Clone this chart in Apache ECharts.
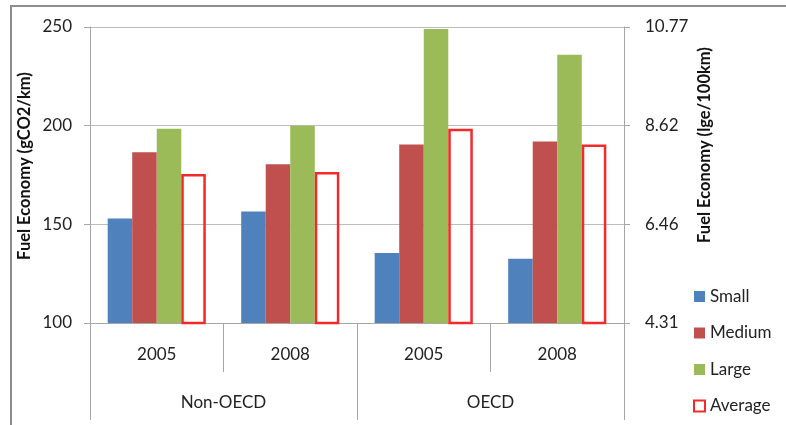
<!DOCTYPE html>
<html>
<head>
<meta charset="utf-8">
<script src="https://cdn.jsdelivr.net/npm/echarts@6/dist/echarts.min.js"></script>
<style>
  html, body { margin: 0; padding: 0; background: #fff; }
  #chart { width: 786px; height: 425px; }
</style>
</head>
<body>
<div id="chart"></div>
<script>
// Passenger vehicle fuel economy by vehicle size, region and year
const years = ['2005', '2008', '2005', '2008'];
const regions = ['Non-OECD', 'OECD'];
const small = [153, 156.5, 135.5, 132.5];
const medium = [186.5, 180.5, 190.5, 192];
const large = [198.5, 200, 249, 236];
const average = [175.5, 176.5, 198.5, 190.5];
// Left axis ticks (gCO2/km) and matching right axis labels (lge/100km)
const leftTicks = [100, 150, 200, 250];
const rightTicks = ['4.31', '6.46', '8.62', '10.77'];

const FONT = 'Lato, "Liberation Sans", sans-serif';
const AXIS_GRAY = '#a6a6a6';
const GRID_GRAY = '#bdbdbd';
const LABEL_SIZE = 17;

const chart = echarts.init(document.getElementById('chart'), null, { renderer: 'canvas' });

chart.setOption({
  animation: false,
  backgroundColor: '#fff',
  textStyle: { fontFamily: FONT },
  grid: { left: 90, right: 162, top: 27, bottom: 102, containLabel: false },
  legend: {
    orient: 'vertical',
    left: 693,
    top: 288,
    padding: 0,
    itemWidth: 11,
    itemHeight: 11,
    itemGap: 19.5,
    icon: 'rect',
    textStyle: { fontFamily: FONT, fontSize: LABEL_SIZE, color: '#222', lineHeight: 16, padding: [0, 0, 0, 0] },
    data: ['Small', 'Medium', 'Large', 'Average']
  },
  xAxis: [
    {
      type: 'category',
      data: years,
      position: 'bottom',
      axisLine: { show: true, lineStyle: { color: AXIS_GRAY, width: 1 } },
      axisTick: { show: true, interval: 0, length: 49, lineStyle: { color: AXIS_GRAY } },
      axisLabel: { interval: 0, margin: 23, fontSize: LABEL_SIZE, color: '#222', fontFamily: FONT },
      splitLine: { show: false }
    },
    {
      type: 'category',
      data: regions,
      position: 'bottom',
      offset: 0,
      axisLine: { show: false },
      axisTick: { show: true, interval: 0, length: 97, lineStyle: { color: AXIS_GRAY } },
      axisLabel: { interval: 0, margin: 71, fontSize: LABEL_SIZE, color: '#222', fontFamily: FONT },
      splitLine: { show: false }
    }
  ],
  yAxis: [
    {
      type: 'value',
      min: leftTicks[0],
      max: leftTicks[leftTicks.length - 1],
      interval: 50,
      position: 'left',
      axisLine: { show: true, lineStyle: { color: AXIS_GRAY } },
      axisTick: { show: true, length: 6, lineStyle: { color: AXIS_GRAY } },
      axisLabel: { margin: 18, fontSize: LABEL_SIZE, color: '#222', fontFamily: FONT },
      splitLine: { show: true, lineStyle: { color: GRID_GRAY, width: 1 } }
    },
    {
      type: 'value',
      min: leftTicks[0],
      max: leftTicks[leftTicks.length - 1],
      interval: 50,
      position: 'right',
      axisLine: { show: true, lineStyle: { color: AXIS_GRAY } },
      axisTick: { show: true, length: 6, lineStyle: { color: AXIS_GRAY } },
      axisLabel: {
        margin: 21, fontSize: LABEL_SIZE, color: '#222', fontFamily: FONT,
        formatter: (v) => rightTicks[leftTicks.indexOf(v)]
      },
      splitLine: { show: false }
    }
  ],
  series: [
    {
      name: 'Small', type: 'bar', data: small,
      barGap: '0%', barCategoryGap: '26.5%',
      itemStyle: { color: '#4f81bd' }
    },
    {
      name: 'Medium', type: 'bar', data: medium,
      itemStyle: { color: '#c0504d' }
    },
    {
      name: 'Large', type: 'bar', data: large,
      itemStyle: { color: '#9bbb59' }
    },
    {
      name: 'Average', type: 'bar', data: average,
      itemStyle: { color: 'rgba(255,255,255,0)', borderColor: '#f22a2a', borderWidth: 2.5 }
    }
  ],
  graphic: [
    {
      // outer chart frame (left and top edges visible)
      type: 'rect', silent: true, z: -1,
      shape: { x: 11, y: 6, width: 800, height: 440 },
      style: { fill: 'none', stroke: '#8c8c8c', lineWidth: 2 }
    },
    {
      type: 'text', x: 25, y: 166, rotation: Math.PI / 2,
      style: {
        text: 'Fuel Economy (gCO2/km)', fontFamily: FONT, fontSize: 16.5, fontWeight: 'bold',
        fill: '#111', align: 'center', verticalAlign: 'middle'
      }
    },
    {
      type: 'text', x: 705, y: 145, rotation: Math.PI / 2,
      style: {
        text: 'Fuel Economy (lge/100km)', fontFamily: FONT, fontSize: 16.5, fontWeight: 'bold',
        fill: '#111', align: 'center', verticalAlign: 'middle'
      }
    }
  ]
});
</script>
</body>
</html>
